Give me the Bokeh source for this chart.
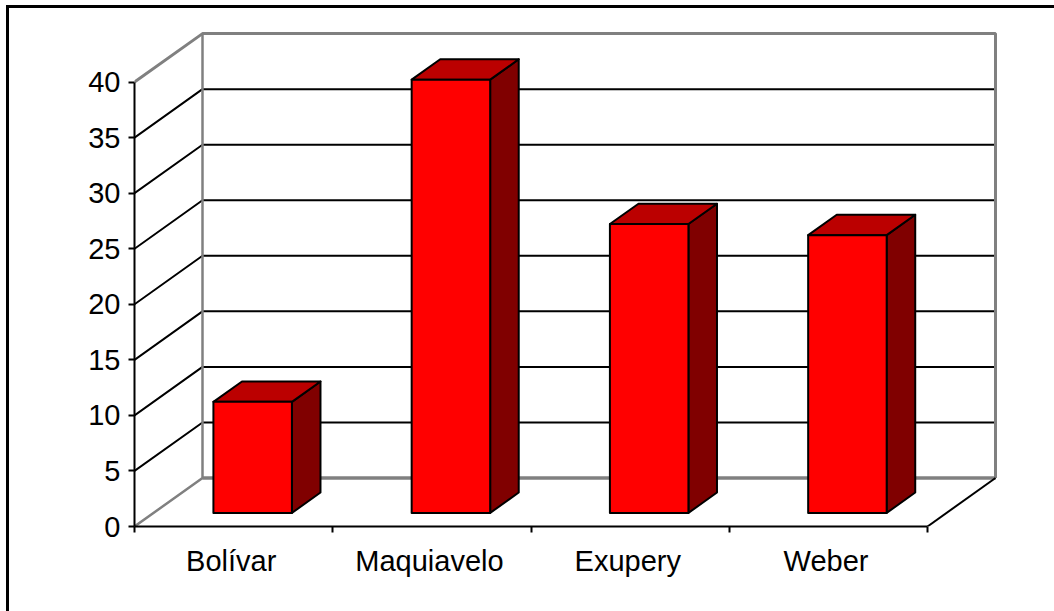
from bokeh.plotting import figure
from bokeh.embed import file_html
from bokeh.resources import INLINE
from bokeh.models import Range1d, LinearAxis, FixedTicker

categories = ["Bolívar", "Maquiavelo", "Exupery", "Weber"]
values = [10, 39, 26, 25]
y_ticks = [0, 5, 10, 15, 20, 25, 30, 35, 40]

W, H = 1054, 611
LEFT, TOP, RIGHT, BOTTOM = 134, 10, 1004, 526
PX_X = 198.25      # pixels per category
PX_Y = 11.11       # pixels per value unit
DX = 68 / PX_X     # depth of the 3D box, in data units
DY = 48.5 / PX_Y
BAR_W = 0.396
BAR_D0, BAR_D1 = 0.28, 0.70   # bar depth extent as share of the box depth
LABEL_SHIFT = 0.012           # category labels sit slightly left of the cell centre
GRID = "black"
WALL = "#808080"

p = figure(width=W, height=H, output_backend="svg", toolbar_location=None,
           x_range=Range1d(0, (RIGHT - LEFT) / PX_X),
           y_range=Range1d(0, (BOTTOM - TOP) / PX_Y),
           x_axis_type=None, y_axis_type=None,
           min_border_left=LEFT, min_border_right=W - RIGHT,
           min_border_top=TOP, min_border_bottom=H - BOTTOM,
           background_fill_color="white",
           border_fill_color="white")
p.outline_line_color = None
p.grid.visible = False
# outer chart border: only its left and top edges fall on the page
p.stylesheets = [""":host { overflow: hidden; }
:host::after { content: ""; position: absolute; left: 6px; top: 5px; width: 3000px; height: 3000px;
  box-sizing: border-box; border: 3px solid black; pointer-events: none; }"""]

n = len(categories)
top = y_ticks[-1]

# black grid lines: side wall and back wall
gx, gy = [], []
for v in y_ticks[1:-1]:
    gx.append([0, DX, n + DX])
    gy.append([v, v + DY, v + DY])
p.multi_line(gx, gy, line_color=GRID, line_width=2)

# grey walls
p.line([0, DX, DX], [0, DY, top + DY], line_color=WALL, line_width=2.5)
p.line([0, DX, n + DX, n + DX], [top, top + DY, top + DY, DY], line_color=WALL, line_width=3)
p.line([DX, n + DX], [DY, DY], line_color=WALL, line_width=3.5)
# floor edge
p.line([n, n + DX], [0, DY], line_color="black", line_width=2)

# bars
for i, v in enumerate(values):
    x0 = i + 0.5 - BAR_W / 2 + BAR_D0 * DX
    x1 = x0 + BAR_W
    y0 = BAR_D0 * DY
    y1 = y0 + v
    ox = (BAR_D1 - BAR_D0) * DX
    oy = (BAR_D1 - BAR_D0) * DY
    p.patch([x1, x1 + ox, x1 + ox, x1], [y0, y0 + oy, y1 + oy, y1],
            fill_color="#800000", line_color="black", line_width=2, line_join="round")
    p.patch([x0, x0 + ox, x1 + ox, x1], [y1, y1 + oy, y1 + oy, y1],
            fill_color="#BB0000", line_color="black", line_width=2, line_join="round")
    p.patch([x0, x1, x1, x0], [y0, y0, y1, y1],
            fill_color="#FF0000", line_color="black", line_width=2, line_join="round")

# axes
FONT = "Liberation Sans"
yax = LinearAxis(ticker=FixedTicker(ticks=y_ticks), bounds=(0, top))
yax.axis_line_width = 2
yax.major_tick_line_width = 2
yax.major_tick_in = 0
yax.major_tick_out = 6
yax.major_label_text_font = FONT
yax.major_label_text_font_size = "29px"
yax.major_label_text_color = "black"
yax.major_label_standoff = 8
p.add_layout(yax, "left")

centers = [i + 0.5 - LABEL_SHIFT for i in range(n)]
xax = LinearAxis(ticker=FixedTicker(ticks=centers, minor_ticks=list(range(n + 1))), bounds=(0, n))
xax.major_label_overrides = dict(zip(centers, categories))
xax.axis_line_width = 2
xax.major_tick_line_color = None
xax.major_tick_in = 0
xax.major_tick_out = 6
xax.minor_tick_line_width = 2
xax.minor_tick_line_color = "black"
xax.minor_tick_in = 0
xax.minor_tick_out = 6
xax.major_label_text_font = FONT
xax.major_label_text_font_size = "29px"
xax.major_label_text_color = "black"
xax.major_label_standoff = 12
p.add_layout(xax, "below")

open("out.html", "w").write(file_html(p, INLINE))
